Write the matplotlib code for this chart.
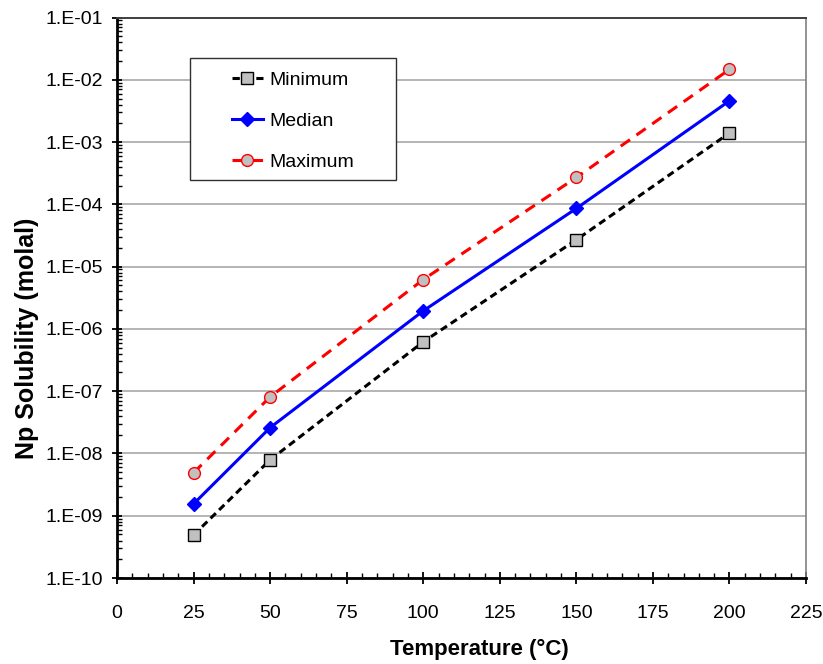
import numpy as np
import matplotlib as mpl
import matplotlib.pyplot as plt
from matplotlib.patches import Rectangle
from matplotlib.ticker import FixedLocator, LogLocator, NullFormatter, FuncFormatter

mpl.rcParams['font.family'] = ['Liberation Sans', 'DejaVu Sans']

temps = [25, 50, 100, 150, 200]
sol_min = [4.9e-10, 7.9e-9, 6.2e-7, 2.7e-5, 1.4e-3]
sol_med = [1.55e-9, 2.6e-8, 1.95e-6, 8.6e-5, 4.6e-3]
sol_max = [4.9e-9, 8.1e-8, 6.2e-6, 2.7e-4, 1.47e-2]

fig = plt.figure(figsize=(8.23, 6.64), dpi=100)
ax = fig.add_axes([0.1422, 0.1295, 0.8372, 0.8441])

ax.plot(temps, sol_min, '--', color='black', lw=2.2, dashes=(2.4, 1.5),
        marker='s', ms=8, mfc='#c0c0c0', mec='black', mew=1.0, label='Minimum', zorder=3)
ax.plot(temps, sol_med, '-', color='#0000ff', lw=2.2,
        marker='D', ms=7.5, mfc='#0000ff', mec='#0000ff', label='Median', zorder=3)
ax.plot(temps, sol_max, '--', color='#ff0000', lw=2.2, dashes=(3.7, 2.6),
        marker='o', ms=8.5, mfc='#c0c0c0', mec='#ff0000', mew=1.0, label='Maximum', zorder=3)

ax.set_yscale('log')
ax.set_xlim(0, 225)
ax.set_ylim(1e-10, 1e-1)

ax.xaxis.set_major_locator(FixedLocator(np.arange(0, 226, 25)))
ax.xaxis.set_minor_locator(FixedLocator(np.arange(0, 226, 5)))
ax.yaxis.set_major_locator(LogLocator(base=10, numticks=20))
ax.yaxis.set_minor_locator(LogLocator(base=10, subs=np.arange(2, 10), numticks=20))
ax.yaxis.set_minor_formatter(NullFormatter())
ax.yaxis.set_major_formatter(FuncFormatter(lambda v, p: '1.E%+03d' % int(round(np.log10(v))) if v < 1 else ''))

ax.grid(axis='y', which='major', color='#a0a0a0', lw=1.1)
ax.set_axisbelow(True)

ax.tick_params(which='both', labelsize=14, color='black')
ax.tick_params(axis='x', which='major', direction='inout', length=9, width=1.3, pad=15)
ax.tick_params(axis='y', which='major', direction='inout', length=6.5, width=1.3, pad=7)
ax.tick_params(which='minor', direction='in', length=3.6, width=1.0)
ax.tick_params(top=False, right=False, which='both')

for side in ['left', 'bottom']:
    ax.spines[side].set_linewidth(2.0)
    ax.spines[side].set_color('black')
ax.spines['top'].set_linewidth(1.4)
ax.spines['top'].set_color('#404040')
ax.spines['right'].set_linewidth(1.2)
ax.spines['right'].set_color('#808080')

ax.set_xlabel('Temperature (°C)', fontsize=16, fontweight='bold')
ax.xaxis.set_label_coords(0.526, -0.108)
ax.set_ylabel('Np Solubility (molal)', fontsize=18, fontweight='bold')
ax.yaxis.set_label_coords(-0.113, 0.428)

# legend box drawn separately so it can be wider than the entries
ax.add_patch(Rectangle((0.106, 0.710), 0.299, 0.218, transform=ax.transAxes,
                       facecolor='white', edgecolor='#303030', lw=1.0, zorder=4))
ax.legend(loc='center', bbox_to_anchor=(0.2555, 0.815), fontsize=14, frameon=False,
          labelspacing=1.2, handlelength=1.6, handletextpad=0.35, borderpad=0,
          borderaxespad=0).set_zorder(5)

fig.savefig('out.png', dpi=100, facecolor='white')
